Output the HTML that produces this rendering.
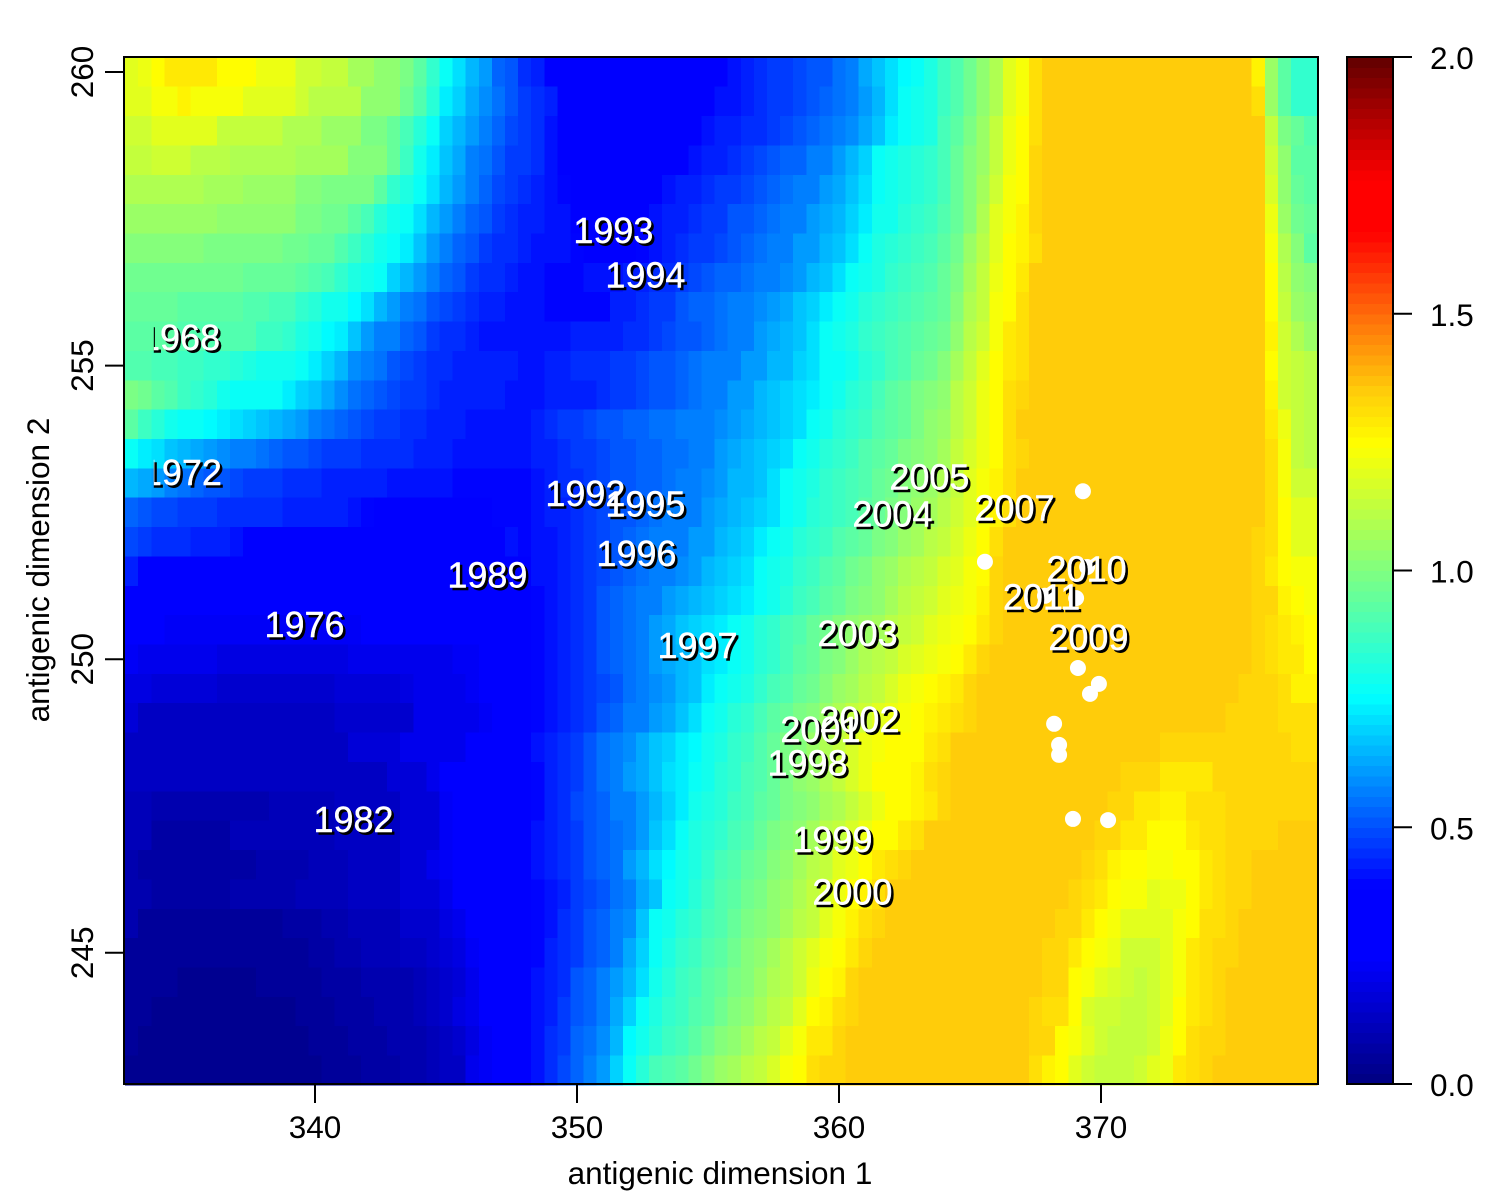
<!DOCTYPE html>
<html lang="en">
<head>
<meta charset="utf-8">
<title>Antigenic map heatmap</title>
<style>
html,body{margin:0;padding:0;background:#fff;width:1500px;height:1200px;overflow:hidden}
svg{display:block;font-family:"Liberation Sans",Arial,sans-serif}
</style>
</head>
<body>
<svg id="chart" xmlns="http://www.w3.org/2000/svg" width="1500" height="1200" viewBox="0 0 1500 1200">
<defs><clipPath id="label-clip"><rect x="153.8" y="57" width="1164" height="1027"/></clipPath></defs>
<g id="heat" shape-rendering="crispEdges"></g>
<g id="dots"></g>
<g id="labels" clip-path="url(#label-clip)" font-size="36" text-anchor="middle"></g>
<g id="bar" shape-rendering="crispEdges"></g>
<g id="axes" font-size="31.5" fill="#000"></g>
</svg>
<script>
const xCenters0 = 333, cellStep = 0.5, yCenters0 = 260;
const xTicks = [340, 350, 360, 370];
const yTicks = [245, 250, 255, 260];
const barTicks = [0, 0.5, 1, 1.5, 2];
const barTickLabels = ["0.0", "0.5", "1.0", "1.5", "2.0"];
const labelYears = ["1968","1972","1976","1982","1989","1992","1993","1994","1995","1996","1997","1998","1999","2000","2001","2002","2003","2004","2005","2007","2009","2010","2011"];
const labelX = [334.85,334.92,339.60,341.47,346.58,350.32,351.39,352.61,352.61,352.27,354.60,358.80,359.75,360.51,359.29,360.78,360.71,362.04,363.45,366.70,369.52,369.45,367.73];
const labelY = [255.47,253.17,250.58,247.26,251.42,252.81,257.29,256.53,252.63,251.79,250.22,248.22,246.92,246.02,248.79,248.96,250.43,252.46,253.09,252.56,250.36,251.52,251.05];
const pointX = [369.31,365.57,369.47,367.86,369.05,369.12,369.92,369.58,368.21,368.40,368.40,368.93,370.27];
const pointY = [252.86,251.66,251.57,251.08,251.04,249.85,249.58,249.41,248.90,248.54,248.37,247.28,247.26];
/* cell values x100, one row per y step from top (260) to bottom (243), 91 columns from x=333 to 378 */
const heatValues = [
[118,120,125,129,129,129,129,125,125,125,120,120,120,115,115,112,112,106,106,103,103,98,93,85,77,70,64,61,53,50,45,42,25,25,25,25,25,25,25,25,25,25,25,25,25,25,41,42,44,46,47,48,50,51,55,57,63,67,70,74,77,80,87,90,97,103,109,118,123,130,135,135,135,135,135,135,135,135,135,135,135,135,135,135,135,135,127,105,93,85,85],
[118,118,122,123,126,122,122,122,122,119,119,119,119,115,110,110,110,110,102,102,102,97,90,82,73,68,63,59,55,50,47,44,42,25,25,25,25,25,25,25,25,25,25,25,25,41,41,42,44,46,47,48,50,52,55,57,61,64,70,76,78,80,87,90,97,103,109,118,123,130,135,135,135,135,135,135,135,135,135,135,135,135,135,135,135,135,130,105,93,85,85],
[115,115,118,118,118,118,118,113,113,113,113,113,109,109,109,105,105,105,99,99,95,88,83,77,69,64,60,57,52,49,47,44,41,25,25,25,25,25,25,25,25,25,25,25,41,42,42,44,44,47,48,50,52,54,56,59,63,67,72,76,78,80,88,92,98,105,112,120,125,130,135,135,135,135,135,135,135,135,135,135,135,135,135,135,135,135,135,112,98,95,90],
[112,112,115,115,115,111,111,111,109,109,109,109,109,106,106,106,106,100,100,100,95,86,78,72,67,62,58,54,50,47,46,44,40,25,25,25,25,25,25,25,25,25,25,41,42,43,44,47,48,50,52,53,56,57,61,64,69,76,78,80,82,84,89,94,100,105,113,120,125,132,135,135,135,135,135,135,135,135,135,135,135,135,135,135,135,135,135,115,102,93,93],
[109,109,109,109,109,109,106,106,106,104,104,104,104,101,101,98,98,98,98,92,85,80,77,70,64,60,57,52,49,47,45,43,40,39,25,25,25,25,25,25,25,41,42,43,44,46,47,49,50,53,55,56,58,60,63,66,70,76,78,81,83,85,89,95,100,107,115,122,125,132,135,135,135,135,135,135,135,135,135,135,135,135,135,135,135,135,135,117,103,95,93],
[104,104,104,104,104,104,104,102,102,102,102,102,102,98,98,96,96,93,88,83,79,77,70,65,60,56,53,50,47,45,43,42,40,40,25,25,25,25,25,25,40,42,43,44,46,47,50,51,53,54,56,58,60,62,65,68,72,78,79,82,84,86,90,95,100,108,118,122,127,132,135,135,135,135,135,135,135,135,135,135,135,135,135,135,135,135,135,120,105,97,95],
[101,101,101,101,101,101,99,99,99,99,99,99,97,97,95,95,91,87,83,79,76,72,66,61,57,53,50,47,45,44,42,41,40,40,39,25,25,25,25,39,41,42,44,46,47,49,51,53,55,56,57,60,61,64,67,71,76,80,83,85,87,88,93,97,104,110,118,124,127,130,135,135,135,135,135,135,135,135,135,135,135,135,135,135,135,135,135,122,108,100,93],
[97,97,97,97,97,97,97,97,97,95,95,95,95,93,90,88,84,80,78,76,69,64,61,57,53,50,47,44,44,42,41,40,39,39,39,40,40,41,42,43,44,45,47,49,50,52,53,55,56,58,59,61,64,66,70,76,78,81,84,86,88,90,94,98,106,112,120,124,129,135,135,135,135,135,135,135,135,135,135,135,135,135,135,135,135,135,135,125,110,103,100],
[95,95,95,95,93,93,93,93,93,91,91,88,88,85,82,79,78,75,70,64,61,58,55,51,48,47,44,42,42,40,40,40,39,39,39,39,39,42,43,44,46,47,50,52,53,55,56,58,59,61,63,66,69,72,76,78,82,84,86,88,90,92,95,101,108,114,122,125,130,135,135,135,135,135,135,135,135,135,135,135,135,135,135,135,135,135,135,125,112,105,103],
[92,92,92,92,90,90,90,90,90,90,87,87,84,80,78,75,73,66,61,58,56,52,50,47,45,44,42,40,40,40,40,40,40,40,42,43,43,43,44,45,47,48,50,51,53,55,57,58,60,62,64,67,70,76,78,81,84,86,88,90,92,94,97,103,110,116,122,128,131,135,135,135,135,135,135,135,135,135,135,135,135,135,135,135,135,135,135,126,115,108,105],
[90,90,88,88,86,86,85,84,82,80,79,79,78,76,72,68,64,59,57,54,51,49,47,45,44,43,42,42,42,42,41,41,43,43,44,44,45,47,47,48,50,50,52,54,56,57,58,60,61,64,65,68,71,76,77,79,82,85,88,91,94,96,100,106,112,118,124,128,131,135,135,135,135,135,135,135,135,135,135,135,135,135,135,135,135,135,135,125,115,112,110],
[98,96,92,90,87,85,82,78,76,76,76,76,73,69,67,62,59,55,52,50,48,47,46,44,43,42,42,42,42,41,41,40,42,43,43,43,45,46,47,49,50,51,53,54,56,58,60,61,64,66,68,70,73,77,79,82,85,88,92,95,98,100,103,110,115,120,125,131,133,135,135,135,135,135,135,135,135,135,135,135,135,135,135,135,135,135,135,127,116,113,111],
[92,86,82,78,76,76,74,72,70,68,67,64,62,60,57,55,52,50,48,47,46,44,44,43,42,42,41,40,40,40,40,42,44,46,47,49,50,50,52,53,54,55,56,56,57,59,61,62,64,67,68,71,76,79,82,85,87,90,92,95,98,102,105,110,116,121,125,130,134,135,135,135,135,135,135,135,135,135,135,135,135,135,135,135,135,135,135,128,120,112,110],
[76,73,70,66,64,62,61,59,58,56,55,53,51,50,49,47,47,46,45,44,44,44,43,42,42,41,41,40,40,40,40,42,43,44,46,47,49,50,51,52,53,54,55,56,57,60,62,64,66,69,71,76,79,82,85,87,90,92,95,98,100,103,107,112,117,120,125,130,133,135,135,135,135,135,135,135,135,135,135,135,135,135,135,135,135,135,135,130,122,112,110],
[64,63,60,57,55,53,51,50,48,47,47,46,45,44,44,43,43,42,42,42,41,41,40,40,40,39,39,39,39,39,39,41,42,44,45,47,48,50,50,52,53,55,56,58,59,61,64,65,67,70,76,78,81,84,86,89,91,94,97,100,102,105,109,114,118,122,126,131,135,135,135,135,135,135,135,135,135,135,135,135,135,135,135,135,135,135,135,130,123,116,116],
[53,51,49,48,47,47,46,45,44,44,44,44,43,43,42,42,42,41,39,25,25,25,25,25,25,25,25,25,39,39,39,40,42,43,44,46,48,50,51,53,55,56,57,58,61,62,64,67,69,71,76,79,82,84,87,89,92,95,98,101,104,107,111,115,119,122,126,131,135,135,135,135,135,135,135,135,135,135,135,135,135,135,135,135,135,135,135,130,124,118,118],
[48,47,45,44,44,43,42,42,41,25,25,25,25,25,25,25,25,25,25,25,25,25,25,25,25,25,25,25,25,40,39,40,41,42,44,47,49,50,53,54,56,57,58,60,61,64,67,69,72,76,78,82,85,87,90,93,95,98,100,104,107,110,113,117,120,124,130,135,135,135,135,135,135,135,135,135,135,135,135,135,135,135,135,135,135,135,133,130,124,119,119],
[42,25,25,25,25,25,25,25,25,25,25,25,25,25,25,25,25,25,25,25,25,25,25,25,25,25,25,25,25,25,25,40,41,42,44,47,49,51,53,55,56,58,59,61,64,66,69,71,76,78,81,84,87,90,93,96,99,102,105,108,111,114,117,119,122,125,132,135,135,135,135,135,135,135,135,135,135,135,135,135,135,135,135,135,135,135,133,129,125,123,122],
[25,25,25,25,25,25,25,25,25,25,25,25,25,25,25,25,25,25,25,25,25,25,25,25,25,25,25,25,25,25,25,39,41,42,44,47,50,52,54,56,58,60,62,64,67,69,71,73,76,79,83,86,89,92,95,98,100,103,106,110,112,115,118,121,123,127,133,135,135,135,135,135,135,135,135,135,135,135,135,135,135,135,135,135,135,135,133,132,126,124,123],
[25,25,25,23,23,23,23,23,23,22,22,22,22,22,22,22,22,22,24,24,24,24,25,25,25,25,25,25,25,25,25,39,41,42,44,47,50,53,55,57,61,63,66,68,70,73,76,78,82,85,88,91,94,97,100,103,105,107,110,113,116,119,121,123,125,129,133,135,135,135,135,135,135,135,135,135,135,135,135,135,135,135,135,135,135,135,133,131,128,126,125],
[22,20,20,20,20,20,20,18,18,18,18,18,18,18,18,18,18,20,20,20,20,20,20,21,21,23,23,24,24,25,25,39,41,43,45,47,50,52,54,57,60,62,64,67,70,73,76,78,82,85,88,92,95,98,101,104,108,111,114,117,119,121,123,125,129,133,135,135,135,135,135,135,135,135,135,135,135,135,135,135,135,135,135,135,135,135,133,131,129,128,125],
[19,19,17,16,16,16,16,15,15,15,15,15,15,15,15,15,16,16,17,17,17,18,20,20,21,21,22,25,25,25,25,39,40,42,44,47,49,51,54,57,59,61,64,67,72,76,78,81,85,88,91,94,97,100,104,107,110,114,117,120,123,125,126,129,132,135,135,135,135,135,135,135,135,135,135,135,135,135,135,135,135,135,135,135,135,133,133,132,131,127,127],
[17,13,12,12,12,12,12,12,12,12,12,12,12,12,12,12,15,15,15,15,15,15,20,20,20,20,20,23,25,25,25,39,40,42,44,47,50,53,56,58,60,62,66,70,76,78,82,85,88,92,95,98,101,105,108,112,115,118,120,123,125,126,128,130,133,135,135,135,135,135,135,135,135,135,135,135,135,135,135,135,135,135,135,135,133,133,133,132,131,130,130],
[13,13,13,13,13,13,13,13,13,13,13,13,13,13,13,13,13,17,17,17,17,20,20,20,20,20,25,25,25,25,25,40,42,45,47,50,54,57,59,62,66,69,72,75,78,80,84,87,90,94,98,101,105,109,113,117,120,122,124,125,125,128,131,135,135,135,135,135,135,135,135,135,135,135,135,135,135,135,135,132,132,132,132,132,132,132,132,132,132,130,130],
[12,12,12,12,12,12,12,12,12,12,12,12,12,12,12,13,13,13,13,13,16,16,16,20,24,25,25,25,25,25,25,39,42,44,47,50,55,57,60,62,66,70,73,77,78,82,85,88,91,95,99,102,105,109,113,117,120,124,125,125,127,130,133,135,135,135,135,135,135,135,135,135,135,135,135,135,132,132,132,129,129,129,129,132,132,132,132,132,132,132,132],
[11,11,9,9,9,9,9,9,9,9,9,10,10,10,10,10,13,13,13,13,13,17,17,17,22,25,25,25,25,25,25,39,42,44,48,50,53,56,58,61,64,68,73,78,80,83,86,89,92,95,98,100,103,106,109,113,117,121,124,125,127,128,133,135,135,135,135,135,135,135,135,135,135,135,135,133,133,129,129,127,127,130,130,130,132,132,132,132,132,132,132],
[10,10,7,7,7,7,7,7,10,10,10,10,10,10,10,10,13,13,13,13,13,17,17,17,22,25,25,25,25,25,25,40,42,44,47,50,53,55,58,61,66,70,76,80,83,85,88,91,94,98,100,103,107,110,114,117,120,124,125,128,130,135,135,135,135,135,135,135,135,135,135,135,135,135,133,133,128,128,125,125,125,128,130,130,132,132,132,132,135,135,135],
[9,7,7,7,7,7,7,7,7,7,9,9,9,9,10,10,10,13,13,13,13,16,16,20,23,25,25,25,25,25,25,40,42,44,47,50,52,55,60,64,70,74,78,81,85,88,91,94,97,100,103,106,110,114,118,121,125,129,130,133,135,135,135,135,135,135,135,135,135,135,135,135,135,133,130,127,125,125,122,122,125,125,128,130,132,132,135,135,135,135,135],
[9,8,6,6,6,6,6,6,8,8,8,8,8,10,10,10,10,12,12,12,12,16,16,16,20,25,25,25,25,25,25,39,41,43,46,48,51,54,58,63,67,76,79,83,87,90,93,96,99,102,105,109,113,117,120,124,126,130,135,135,135,135,135,135,135,135,135,135,135,135,135,135,133,131,128,125,122,122,118,121,121,125,128,130,132,132,135,135,135,135,135],
[8,5,5,5,5,5,5,5,5,5,5,5,7,7,7,9,9,11,11,11,11,14,14,14,18,21,25,25,25,25,25,39,41,44,47,50,52,56,59,67,76,78,82,85,88,91,95,98,100,103,107,111,114,119,123,126,130,133,135,135,135,135,135,135,135,135,135,135,135,135,135,133,132,129,125,123,119,119,119,119,122,125,130,130,132,135,135,135,135,135,135],
[5,5,5,5,5,5,5,5,5,5,5,5,5,5,7,7,8,9,10,10,10,12,12,14,16,18,22,25,25,25,25,39,42,44,47,50,53,57,62,68,76,80,84,87,90,93,97,100,103,106,110,115,118,122,125,128,132,135,135,135,135,135,135,135,135,135,135,135,135,135,133,132,129,125,122,120,116,116,116,118,122,128,130,132,132,135,135,135,135,135,135],
[5,5,5,5,3,3,3,3,3,3,4,4,4,4,5,7,7,7,9,9,9,9,10,12,14,17,20,25,25,25,25,40,42,45,50,52,56,60,65,71,78,83,86,89,92,95,98,101,105,109,111,115,120,125,127,133,135,135,135,135,135,135,135,135,135,135,135,135,135,135,133,132,125,122,119,117,116,113,116,119,122,128,130,132,135,135,135,135,135,135,135],
[5,5,3,3,3,3,3,3,3,3,3,3,3,4,4,4,7,7,7,8,8,8,11,12,14,18,21,24,25,25,25,41,42,47,50,53,58,62,69,76,80,84,87,90,93,97,100,103,107,110,114,118,125,127,130,132,135,135,135,135,135,135,135,135,135,135,135,135,135,133,131,130,125,117,116,116,113,113,115,118,124,128,130,133,135,135,135,135,135,135,135],
[4,3,3,3,3,3,3,3,3,3,3,3,3,3,4,4,4,6,6,6,8,8,8,10,12,14,19,22,25,25,25,41,44,47,52,55,59,64,74,78,82,86,89,93,96,100,103,107,110,114,118,123,128,129,132,135,135,135,135,135,135,135,135,135,135,135,135,135,135,133,132,125,122,119,116,112,112,112,115,120,125,130,132,132,135,135,135,135,135,135,135],
[3,3,3,3,3,3,3,3,3,3,3,3,3,3,3,4,4,4,6,6,6,8,8,10,12,13,20,22,25,25,25,41,44,49,53,57,61,68,76,82,88,90,93,97,100,104,107,110,113,117,122,125,130,132,133,135,135,135,135,135,135,135,135,135,135,135,135,135,135,130,127,125,118,115,112,112,112,116,119,121,128,131,132,135,135,135,135,135,135,135,135]
];

const NS = "http://www.w3.org/2000/svg";
const xScale = v => 315 + 26.2 * (v - 340);
const yScale = v => 72 + 58.72 * (260 - v);
const barScale = v => 1084 - 513.5 * v;
const LEVELS = 100;
const colorStops = [
  [0, 0, 0, 128], [0.245, 0, 0, 255], [0.385, 0, 0, 255], [0.755, 0, 255, 255],
  [1.0, 128, 255, 128], [1.245, 255, 255, 0], [1.35, 255, 204, 10], [1.5, 255, 106, 10],
  [1.66, 255, 0, 0], [1.76, 255, 0, 0], [2.0, 96, 0, 0]
];

function paletteAt(v) {
  for (let i = 1; i < colorStops.length; i++) {
    const a = colorStops[i - 1], b = colorStops[i];
    if (v <= b[0]) {
      const f = (v - a[0]) / (b[0] - a[0]);
      return "rgb(" + [1, 2, 3].map(k => Math.round(a[k] + f * (b[k] - a[k]))).join(",") + ")";
    }
  }
  return "rgb(96,0,0)";
}
function levelColor(level) {
  return paletteAt((level + 0.5) / LEVELS * 2);
}
function valueColor(v) {
  return levelColor(Math.min(LEVELS - 1, Math.max(0, Math.floor(v / 2 * LEVELS))));
}
function mk(tag, parent, attrs) {
  const el = document.createElementNS(NS, tag);
  for (const k in attrs) el.setAttribute(k, attrs[k]);
  parent.appendChild(el);
  return el;
}

/* heatmap cells */
const heatG = document.getElementById("heat");
heatValues.forEach((row, r) => {
  row.forEach((val, c) => {
    const xv = xCenters0 + c * cellStep, yv = yCenters0 - r * cellStep;
    const x0 = xScale(xv - cellStep / 2), x1 = xScale(xv + cellStep / 2);
    const y0 = yScale(yv + cellStep / 2), y1 = yScale(yv - cellStep / 2);
    const cell = mk("rect", heatG, {x: x0, y: y0, width: x1 - x0 + 0.5, height: y1 - y0 + 0.5, fill: valueColor(val / 100)});
    
    
  });
});

/* points */
const dotG = document.getElementById("dots");
pointX.forEach((px, i) => {
  const dot = mk("circle", dotG, {cx: xScale(px), cy: yScale(pointY[i]), r: 8, fill: "#fff"});
  
  
});

/* year labels: shadows first, then white text */
const labG = document.getElementById("labels");
labelYears.forEach((yr, i) => {
  const t = mk("text", labG, {x: xScale(labelX[i]) + 2.5, y: yScale(labelY[i]) + 11.8 + 2.5, fill: "#000", stroke: "#000", "stroke-width": 0.4});
  t.textContent = yr;
  
  
});
labelYears.forEach((yr, i) => {
  const t = mk("text", labG, {x: xScale(labelX[i]), y: yScale(labelY[i]) + 11.8, fill: "#fff", stroke: "#fff", "stroke-width": 0.4});
  t.textContent = yr;
  
  
});

/* colorbar */
const barG = document.getElementById("bar");
for (let l = 0; l < LEVELS; l++) {
  const top = barScale((l + 1) / LEVELS * 2), bottom = barScale(l / LEVELS * 2);
  const seg = mk("rect", barG, {x: 1347, y: top, width: 46, height: bottom - top + 0.5, fill: levelColor(l)});
  
  
}

/* axes */
const axG = document.getElementById("axes");
const plotFrame = mk("rect", axG, {x: 124, y: 57, width: 1194, height: 1027, fill: "none", stroke: "#000", "stroke-width": 2});


const barFrame = mk("rect", axG, {x: 1347, y: 57, width: 46, height: 1027, fill: "none", stroke: "#000", "stroke-width": 2});



xTicks.forEach(v => {
  const x = xScale(v);
  const tick = mk("line", axG, {x1: x, x2: x, y1: 1084, y2: 1103, stroke: "#000", "stroke-width": 2});
  
  
  const lab = mk("text", axG, {x: x, y: 1138, "text-anchor": "middle"});
  lab.textContent = String(v);
  
  
});
yTicks.forEach(v => {
  const y = yScale(v);
  const tick = mk("line", axG, {x1: 105, x2: 124, y1: y, y2: y, stroke: "#000", "stroke-width": 2});
  
  
  const lab = mk("text", axG, {x: 0, y: 0, "text-anchor": "middle", transform: "translate(93," + y + ") rotate(-90)"});
  lab.textContent = String(v);
  
  
});
barTicks.forEach((v, i) => {
  const y = barScale(v);
  const tick = mk("line", axG, {x1: 1393, x2: 1412, y1: y, y2: y, stroke: "#000", "stroke-width": 2});
  
  
  const lab = mk("text", axG, {x: 1430, y: y + 12});
  lab.textContent = barTickLabels[i];
  
  
});
const xTitle = mk("text", axG, {x: 720, y: 1184, "text-anchor": "middle"});
xTitle.textContent = "antigenic dimension 1";


const yTitle = mk("text", axG, {x: 0, y: 0, "text-anchor": "middle", transform: "translate(49,570) rotate(-90)"});
yTitle.textContent = "antigenic dimension 2";


</script>
</body>
</html>
